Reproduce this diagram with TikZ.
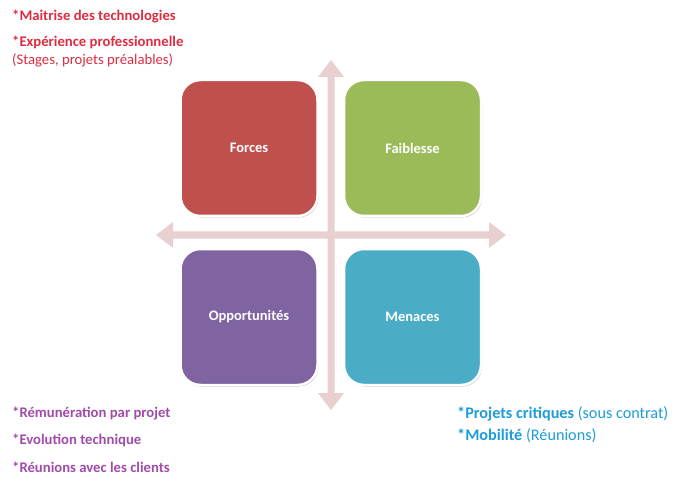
\documentclass[tikz,border=0pt]{standalone}
\usepackage{fontspec}
\setmainfont{Carlito}
\usetikzlibrary{shadows}
\definecolor{forcesc}{HTML}{C0504D}
\definecolor{faiblc}{HTML}{9BBB59}
\definecolor{opportc}{HTML}{8064A2}
\definecolor{menacc}{HTML}{4BACC6}
\definecolor{axisc}{HTML}{E8CFD0}
\definecolor{redtxt}{HTML}{DC2D42}
\definecolor{purptxt}{HTML}{A04CA8}
\definecolor{bluetxt}{HTML}{1E9DD8}
\begin{document}
\begin{tikzpicture}[x=1pt,y=-1pt,
  quad/.style={draw=white,line width=2.5pt,rounded corners=20pt,
    minimum width=137pt,minimum height=136pt,text=white,
    font=\fontsize{14.5}{16}\selectfont\bfseries,
    drop shadow={shadow xshift=1pt,shadow yshift=-1.5pt,fill=black,opacity=0.25}},
  note/.style={anchor=base west,inner sep=0pt,font=\fontsize{14.7}{17}\selectfont}]
\useasboundingbox (0,0) rectangle (686,500);
\fill[white] (0,0) rectangle (686,500);
% two double-headed axes
\coordinate (c) at (331,235);
\fill[axisc] (331,60) -- (344,77) -- (334.5,77) -- (334.5,393) -- (344,393)
  -- (331,410) -- (318,393) -- (327.5,393) -- (327.5,77) -- (318,77) -- cycle;
\fill[axisc] (156,235) -- (173,222) -- (173,231.5) -- (489,231.5) -- (489,222)
  -- (506,235) -- (489,248) -- (489,238.5) -- (173,238.5) -- (173,248) -- cycle;
% the four quadrants
\node[quad,fill=forcesc] (forces) at (249,148) {Forces};
\node[quad,fill=faiblc] (faibl) at (412.5,148) {Faiblesse};
\node[quad,fill=opportc] (opport) at (249,317) {Opportunités};
\node[quad,fill=menacc] (menac) at (412.5,317) {Menaces};
% notes
\node[note,text=redtxt] (n1) at (12,21) {\bfseries *Maitrise des technologies};
\node[note,text=redtxt] (n2) at (12,47) {\bfseries *Expérience professionnelle};
\node[note,text=redtxt] (n3) at (12,65) {(Stages, projets préalables)};
\node[note,text=purptxt] (o1) at (12,417) {\bfseries *Rémunération par projet};
\node[note,text=purptxt] (o2) at (12,444) {\bfseries *Evolution technique};
\node[note,text=purptxt] (o3) at (12,472) {\bfseries *Réunions avec les clients};
\node[note,text=bluetxt,font=\fontsize{16.2}{18}\selectfont] (m1) at (457,418) {\textbf{*Projets critiques} (sous contrat)};
\node[note,text=bluetxt,font=\fontsize{16.2}{18}\selectfont] (m2) at (457,440) {\textbf{*Mobilité} (Réunions)};
\end{tikzpicture}
\end{document}
